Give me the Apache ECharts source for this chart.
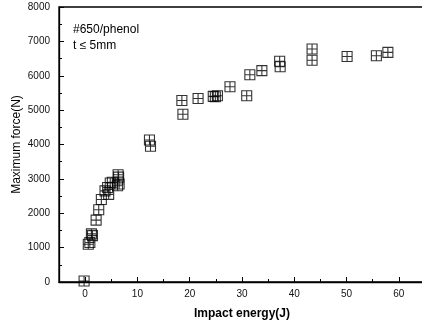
<!DOCTYPE html>
<html><head><meta charset="utf-8">
<script src="https://cdn.jsdelivr.net/npm/echarts@6/dist/echarts.min.js"></script>
<style>html,body{margin:0;padding:0;background:#fff}#c{width:422px;height:327px}</style>
</head><body><div id="c"></div>
<script>
var energy = [-0.2, 0.6, 0.9, 1.2, 1.4, 2.1, 2.6, 3.1, 3.8, 4.3, 4.5, 4.8, 5.2, 6.2, 6.4, 6.3, 6.5, 12.3, 12.5, 18.5, 18.7, 21.6, 24.5, 24.9, 25.3, 27.7, 30.9, 31.5, 33.8, 37.2, 37.3, 43.4, 43.4, 50.1, 55.7, 57.9];
var force  = [30, 1100, 1150, 1400, 1350, 1800, 2100, 2400, 2650, 2750, 2550, 2880, 2900, 2800, 3050, 3120, 2850, 4130, 3950, 5280, 4880, 5340, 5400, 5390, 5420, 5680, 5420, 6030, 6150, 6420, 6260, 6780, 6450, 6560, 6580, 6680];
var xMajor = [0, 10, 20, 30, 40, 50, 60];
var xMinor = [5, 15, 25, 35, 45, 55];
var xTitle = 'Impact energy(J)';
var yTitle = 'Maximum force(N)';
var note1 = '#650/phenol';
var note2 = 't \u2264 5mm';

var pts = energy.map(function(e, i){ return [e, force[i]]; });
var chart = echarts.init(document.getElementById('c'), null, {renderer:'canvas'});
var font = 'Liberation Sans, Arial, sans-serif';
chart.setOption({
  animation:false,
  backgroundColor:'#fff',
  grid:{left:59, right:-3, top:7, bottom:45, outerBoundsMode:'none', containLabel:false,
        show:true, borderColor:'#000', borderWidth:1.3, backgroundColor:'transparent'},
  xAxis:[{
    type:'value', min:-5, max:65, interval:5,
    axisLine:{show:true, onZero:false, lineStyle:{color:'#000', width:1.3}},
    axisTick:{show:true, inside:true, length:5, customValues:xMajor, lineStyle:{color:'#000'}},
    splitLine:{show:false},
    axisLabel:{color:'#111', fontFamily:font, fontSize:10, margin:7, customValues:xMajor},
    name:xTitle, nameLocation:'middle', nameGap:26, nameMoveOverlap:false,
    nameTextStyle:{color:'#000', fontFamily:font, fontSize:12, fontWeight:'bold'}
  },{
    type:'value', position:'bottom', min:-5, max:65, interval:5,
    axisLine:{show:false, onZero:false},
    axisTick:{show:true, inside:true, length:3, customValues:xMinor, lineStyle:{color:'#000'}},
    axisLabel:{show:false}, splitLine:{show:false}
  }],
  yAxis:[{
    type:'value', min:0, max:8000, interval:1000,
    axisLine:{show:true, onZero:false, lineStyle:{color:'#000', width:1.3}},
    axisTick:{show:true, inside:true, length:5, lineStyle:{color:'#000'}},
    minorTick:{show:true, splitNumber:2, length:3, lineStyle:{color:'#000'}},
    splitLine:{show:false},
    axisLabel:{color:'#111', fontFamily:font, fontSize:10, margin:9, formatter:function(v){return String(v);}},
    name:yTitle, nameLocation:'middle', nameGap:36, nameRotate:90, nameMoveOverlap:false,
    nameTextStyle:{color:'#000', fontFamily:font, fontSize:12}
  }],
  series:[{
    type:'scatter',
    data:pts,
    symbol:'path://M0 0H10V10H0Z M5 0V10 M0 5H10',
    symbolSize:[10,10],
    itemStyle:{color:'rgba(0,0,0,0)', borderColor:'#000', borderWidth:1.1},
    clip:false
  }],
  graphic:[
    {type:'text', left:73, top:24, style:{text:note1, font:'12px ' + font, fill:'#000'}},
    {type:'text', left:73, top:40, style:{text:note2, font:'12px ' + font, fill:'#000'}}
  ]
});
</script></body></html>
